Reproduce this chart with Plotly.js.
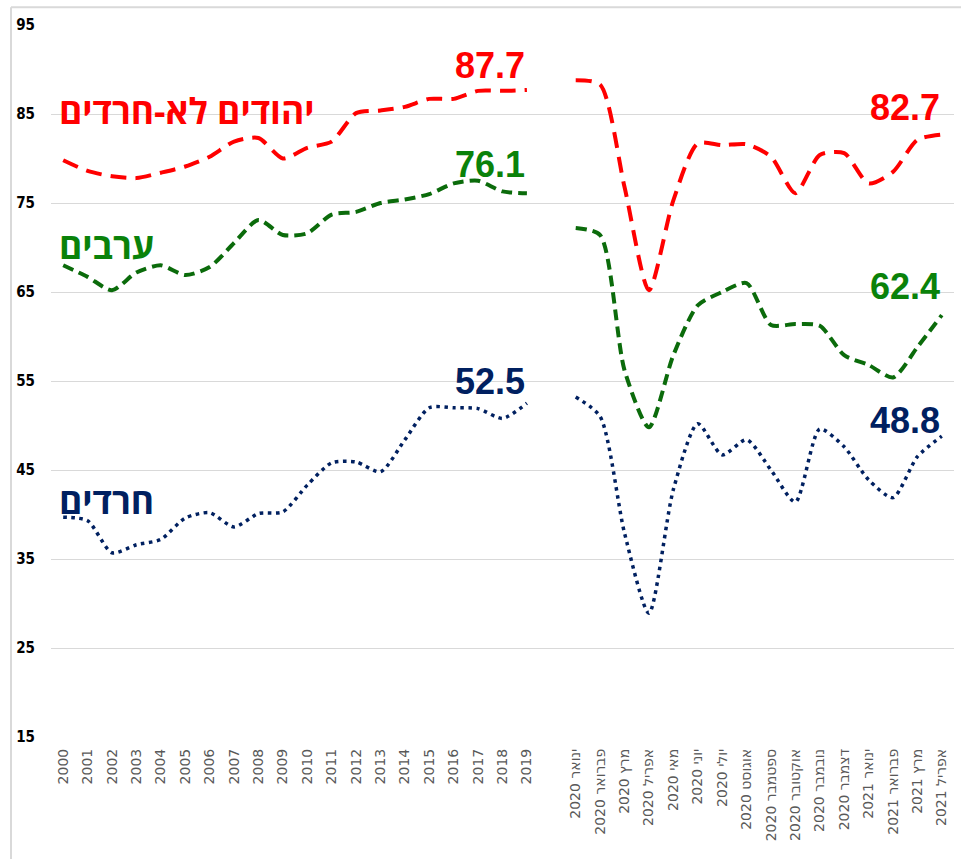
<!DOCTYPE html>
<html>
<head>
<meta charset="utf-8">
<script src="https://cdn.plot.ly/plotly-3.0.1.min.js"></script>
<style>
  html, body { margin: 0; padding: 0; background: #fff; }
  #chart { width: 961px; height: 859px; }
</style>
</head>
<body>
<div id="chart"></div>
<script>
// ---- categories ----
const years = ['2000','2001','2002','2003','2004','2005','2006','2007','2008','2009',
               '2010','2011','2012','2013','2014','2015','2016','2017','2018','2019'];
const gapCategory = [' '];
const months = ['ינואר 2020','פברואר 2020','מרץ 2020','אפריל 2020','מאי 2020','יוני 2020',
                'יולי 2020','אוגוסט 2020','ספטמבר 2020','אוקטובר 2020','נובמבר 2020','דצמבר 2020',
                'ינואר 2021','פברואר 2021','מרץ 2021','אפריל 2021'];

// ---- series names ----
const nameJews = 'יהודים לא-חרדים';
const nameArabs = 'ערבים';
const nameHaredim = 'חרדים';

// ---- values: annual ----
const jewsYears    = [79.8,78.6,78.0,77.8,78.4,79.1,80.2,81.9,82.3,80.0,81.2,81.9,85.1,85.4,85.8,86.7,86.7,87.6,87.6,87.7];
const arabsYears   = [68.0,66.7,65.2,67.2,68.0,66.9,67.8,70.5,73.1,71.4,71.6,73.7,74.0,75.0,75.4,76.0,77.2,77.5,76.3,76.1];
const haredimYears = [39.7,39.3,35.7,36.6,37.2,39.6,40.2,38.6,40.1,40.3,43.3,45.8,45.9,44.8,48.4,52.0,52.0,51.9,50.8,52.5];

// ---- values: monthly ----
const jewsMonths    = [88.8,88.3,76.8,65.2,75.3,81.7,81.5,81.6,80.2,76.1,80.4,80.6,77.2,78.5,82.1,82.7];
const arabsMonths   = [72.2,71.4,56.2,49.8,57.9,63.5,65.0,66.0,61.3,61.4,61.2,57.9,56.8,55.4,58.8,62.4];
const haredimMonths = [53.2,51.0,37.9,28.9,42.8,50.2,46.7,48.4,45.0,41.4,49.6,47.6,43.9,41.9,46.5,48.8];

// ---- y ticks ----
const yTicks = [15,25,35,45,55,65,75,85,95];

const RED = '#ff0000', GREEN_LINE = '#0b6b0b', GREEN_TXT = '#0a820a', NAVY = '#002060';
const FONT = 'Liberation Sans, Arial, sans-serif';
const HEB_FONT = 'Open Sans, DejaVu Sans, sans-serif';

const allCats = years.concat(gapCategory).concat(months);

function tr(x, y, color, width, dash) {
  return {x: x, y: y, type: 'scatter', mode: 'lines', showlegend: false, hoverinfo: 'skip',
          line: {color: color, width: width, dash: dash, shape: 'spline', smoothing: 0.7}};
}

const data = [
  tr(years, jewsYears, RED, 4, '16px,9px'),
  tr(months, jewsMonths, RED, 4, '16px,9px'),
  tr(years, arabsYears, GREEN_LINE, 4, '11px,6px'),
  tr(months, arabsMonths, GREEN_LINE, 4, '11px,6px'),
  tr(years, haredimYears, NAVY, 3.5, '3.5px,4.5px'),
  tr(months, haredimMonths, NAVY, 3.5, '3.5px,4.5px')
];

// category index positions (category axes treat numbers as indices)
const idxLastYear = allCats.indexOf(years[years.length - 1]);
const idxLastMonth = allCats.indexOf(months[months.length - 1]);
const idxFirstYear = allCats.indexOf(years[0]);

function valLabel(xi, y, val, color) {
  return {x: xi, y: y, xref: 'x', yref: 'y', text: '<b>' + val.toFixed(1) + '</b>', showarrow: false,
          xanchor: 'right', yanchor: 'middle', xshift: 0,
          font: {family: FONT, size: 36, color: color}};
}
function nameLabel(y, text, color) {
  return {x: idxFirstYear, y: y, xref: 'x', yref: 'y', text: '<b>' + text + '</b>', showarrow: false,
          xanchor: 'left', yanchor: 'middle', xshift: -6,
          font: {family: HEB_FONT, size: 35.5, color: color}};
}

const annotations = [
  valLabel(idxLastYear, 90.5, jewsYears[jewsYears.length - 1], RED),
  valLabel(idxLastYear, 79.3, arabsYears[arabsYears.length - 1], GREEN_TXT),
  valLabel(idxLastYear, 54.9, haredimYears[haredimYears.length - 1], NAVY),
  valLabel(idxLastMonth, 85.7, jewsMonths[jewsMonths.length - 1], RED),
  valLabel(idxLastMonth, 65.6, arabsMonths[arabsMonths.length - 1], GREEN_TXT),
  valLabel(idxLastMonth, 50.6, haredimMonths[haredimMonths.length - 1], NAVY),
  nameLabel(85.4, nameJews, RED),
  nameLabel(70.3, nameArabs, GREEN_TXT),
  nameLabel(41.6, nameHaredim, NAVY)
];

const layout = {
  width: 961, height: 859,
  margin: {l: 51, r: 7, t: 25, b: 122, pad: 0},
  paper_bgcolor: '#ffffff', plot_bgcolor: '#ffffff',
  showlegend: false,
  xaxis: {
    type: 'category',
    categoryorder: 'array',
    categoryarray: allCats,
    tickmode: 'array',
    tickvals: years.concat(months),
    ticktext: years.concat(months),
    tickangle: -90,
    tickfont: {family: 'DejaVu Sans, sans-serif', size: 14, color: '#595959'},
    ticks: '', showgrid: false, zeroline: false, showline: false,
    ticklabelstandoff: 8,
    range: [-0.5, allCats.length - 0.5],
    fixedrange: true
  },
  yaxis: {
    range: [15, 95],
    tickmode: 'array', tickvals: yTicks, ticktext: yTicks.map(String),
    tickfont: {family: 'Liberation Sans Narrow, DejaVu Sans Condensed, Arial Narrow, sans-serif', size: 15, color: '#000000', weight: 'bold'},
    showgrid: true, gridcolor: '#d9d9d9', gridwidth: 1,
    zeroline: false, showline: false, ticks: '',
    ticklabelstandoff: 15,
    fixedrange: true
  },
  annotations: annotations,
  shapes: [
    {type: 'line', xref: 'paper', yref: 'paper', x0: -0.0443, x1: -0.0443, y0: -0.2, y1: 1.025,
     line: {color: '#d9d9d9', width: 2}},
    {type: 'line', xref: 'paper', yref: 'paper', x0: -0.0443, x1: 1.01, y0: 1.025, y1: 1.025,
     line: {color: '#d9d9d9', width: 2}}
  ]
};

Plotly.newPlot('chart', data, layout, {displayModeBar: false, staticPlot: true});
</script>
</body>
</html>
